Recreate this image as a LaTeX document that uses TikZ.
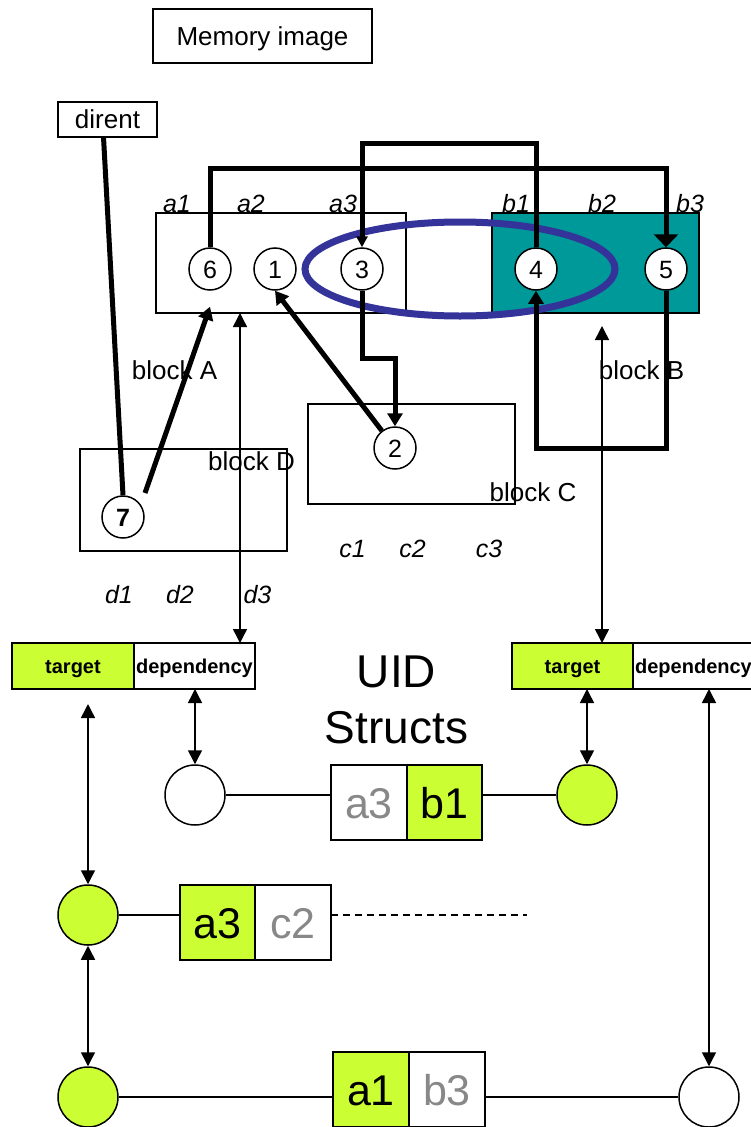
\documentclass[tikz,border=0pt]{standalone}
\usepackage{fontspec}
\setmainfont{Liberation Sans}
\usetikzlibrary{arrows.meta,calc}
\definecolor{uidgreen}{HTML}{CCFF33}
\definecolor{blkteal}{HTML}{009999}
\definecolor{ellblue}{HTML}{333399}
\definecolor{txtgray}{HTML}{888888}
\begin{document}
\begin{tikzpicture}[x=1pt,y=-1pt,
  fs/.style={font=\fontsize{#1}{#1}\selectfont},
  ctr/.style={text height=#1, text depth=0pt},
  box/.style={draw, line width=1.5pt, inner sep=0pt, outer sep=0pt, ctr=18.7pt},
  blkbox/.style={draw, line width=1.5pt, inner sep=0pt, outer sep=0pt, anchor=north west},
  num/.style={circle, draw, fill=white, line width=1.5pt, minimum size=42pt, inner sep=0pt, fs=25, ctr=18pt},
  lbl/.style={fs=25, anchor=base, inner sep=0pt},
  ilbl/.style={font=\fontsize{25}{25}\selectfont\itshape, anchor=base, inner sep=0pt},
  thk/.style={line width=5pt},
  thkarr/.style={line width=5pt, -{Triangle[length=13pt,width=15pt]}},
  thnarr/.style={line width=1.5pt, {Triangle[length=14pt,width=14pt]}-{Triangle[length=14pt,width=14pt]}},
  thn/.style={line width=1.5pt},
  cell/.style={draw, line width=1.5pt, minimum height=75pt, inner sep=0pt, outer sep=0pt, fs=43, ctr=31pt},
  hdr/.style={draw, line width=1.5pt, minimum height=46pt, inner sep=0pt, outer sep=0pt, font=\fontsize{20}{20}\selectfont\bfseries, ctr=14.4pt},
  circ/.style={circle, draw, line width=1.5pt, minimum size=60pt, inner sep=0pt}
]
\useasboundingbox (0,0) rectangle (751,1127);

% top boxes
\node[box, minimum width=219pt, minimum height=54pt, fs=26] (mem) at (262.5,36) {Memory image};
\node[box, minimum width=99pt, minimum height=35pt, fs=26] (dirent) at (107.5,119.5) {dirent};

% blocks
\node[blkbox, minimum width=250pt, minimum height=100pt] (blockA) at (156,213) {};
\node[blkbox, fill=blkteal, minimum width=207pt, minimum height=100pt] (blockB) at (492,213) {};
\node[blkbox, minimum width=207pt, minimum height=100pt] (blockC) at (308,404) {};
\node[blkbox, minimum width=207pt, minimum height=102pt] (blockD) at (80,449) {};

% ellipse
\draw[line width=7pt, ellblue] (460,269) ellipse [x radius=155pt, y radius=47pt];

% numbered circles
\node[num] (n6) at (210,269) {6};
\node[num] (n1) at (275,269) {1};
\node[num] (n3) at (362,269) {3};
\node[num] (n4) at (536,269) {4};
\node[num] (n5) at (666,269) {5};
\node[num] (n2) at (395,448) {2};
\node[num] (n7) at (123,517) {\bfseries 7};

% helper levels
\coordinate (y143) at (0,143);
\coordinate (y168) at (0,168);
\coordinate (y358) at (0,358);
\coordinate (y448) at (0,448);

% thick connectors
\draw[thk, -{Triangle[length=13pt,width=24pt]}] (n6.north) -- (n6.north |- y168) -| (n5.north);
\draw[thk, -{Triangle[length=11pt,width=11pt]}] (n4.north) -- (n4.north |- y143) -| (n3.north);
\draw[thkarr] (n3.south) -- (n3.south |- y358) -| (n2.north);
\draw[thkarr] (n5.south) -- (n5.south |- y448) -| (n4.south);
\draw[thkarr] (n2) -- (n1.south);
\draw[thkarr] ($(n7.center)+(22,-24)$) -- ($(n6.south)+(0,16)$);
\draw[thk] ([xshift=-4pt]dirent.south) -- (n7.north);

% labels
\node[ilbl] (la1) at (177,212) {a1};
\node[ilbl] (la2) at (251,212) {a2};
\node[ilbl] (la3) at (343,212) {a3};
\node[ilbl] (lb1) at (516,212) {b1};
\node[ilbl] (lb2) at (602,212) {b2};
\node[ilbl] (lb3) at (690,212) {b3};
\node[lbl, fs=26] (tA) at (174.5,379) {block A};
\node[lbl, fs=26] (tB) at (641.5,379) {block B};
\node[lbl, fs=26] (tD) at (251.5,470) {block D};
\node[lbl, fs=26] (tC) at (533,501.5) {block C};
\node[ilbl] (lc1) at (352.5,557) {c1};
\node[ilbl] (lc2) at (412.5,557) {c2};
\node[ilbl] (lc3) at (489,557) {c3};
\node[ilbl] (ld1) at (119,603) {d1};
\node[ilbl] (ld2) at (180,603) {d2};
\node[ilbl] (ld3) at (257.5,603) {d3};

% header boxes
\node[hdr, fill=uidgreen, minimum width=122pt, anchor=north west] (tgtL) at (12,643) {target};
\node[hdr, fill=white, minimum width=121pt, anchor=west] (depL) at (tgtL.east) {dependency};
\node[hdr, fill=uidgreen, minimum width=121pt, anchor=north west] (tgtR) at (512,643) {target};
\node[hdr, fill=white, minimum width=121pt, anchor=west] (depR) at (tgtR.east) {dependency};

% UID Structs
\node[fs=46, anchor=base, inner sep=0pt] (uid1) at (396.5,687) {UID};
\node[fs=46, anchor=base, inner sep=0pt] (uid2) at (396.5,743) {Structs};

% bottom circles
\node[circ, fill=white] (wA) at (195,795) {};
\node[circ, fill=uidgreen] (gA) at (587,795) {};
\node[circ, fill=uidgreen] (gB) at (88,915) {};
\node[circ, fill=uidgreen] (gC) at (88,1097) {};
\node[circ, fill=white] (wB) at (709,1097) {};

% cells
\node[cell, fill=white, minimum width=76pt, anchor=north west, text=txtgray] (cA1) at (331,765) {a3};
\node[cell, fill=uidgreen, minimum width=75pt, anchor=west] (cA2) at (cA1.east) {b1};
\node[cell, fill=uidgreen, minimum width=75pt, anchor=north west] (cB1) at (180,885) {a3};
\node[cell, fill=white, minimum width=76pt, anchor=west, text=txtgray] (cB2) at (cB1.east) {c2};
\node[cell, fill=uidgreen, minimum width=76pt, anchor=north west] (cC1) at (333,1052) {a1};
\node[cell, fill=white, minimum width=76pt, anchor=west, text=txtgray] (cC2) at (cC1.east) {b3};

% thin vertical double arrows
\coordinate (aA) at (240,313);
\coordinate (aB) at (602,326);
\draw[thnarr] (aA) -- (aA |- depL.north);
\draw[thnarr] (aB) -- (aB |- tgtR.north);
\draw[thnarr] (wA.north |- depL.south) -- (wA.north);
\draw[thnarr] (gA.north |- tgtR.south) -- (gA.north);
\draw[thnarr] ($(gB.north |- tgtL.south)+(0,15)$) -- (gB.north);
\draw[thnarr] (gB.south) -- (gC.north);
\draw[thnarr] (wB.north |- depR.south) -- (wB.north);

% horizontal links
\draw[thn] (wA.east) -- (wA.east -| cA1.west);
\draw[thn] (gA.west -| cA2.east) -- (gA.west);
\draw[thn] (gB.east) -- (gB.east -| cB1.west);
\draw[thn, dash pattern=on 7pt off 5pt] (gB.east -| cB2.east) -- ++(196,0) coordinate (dEnd);
\draw[thn] (gC.east) -- (gC.east -| cC1.west);
\draw[thn] (wB.west -| cC2.east) -- (wB.west);
\end{tikzpicture}
\end{document}
